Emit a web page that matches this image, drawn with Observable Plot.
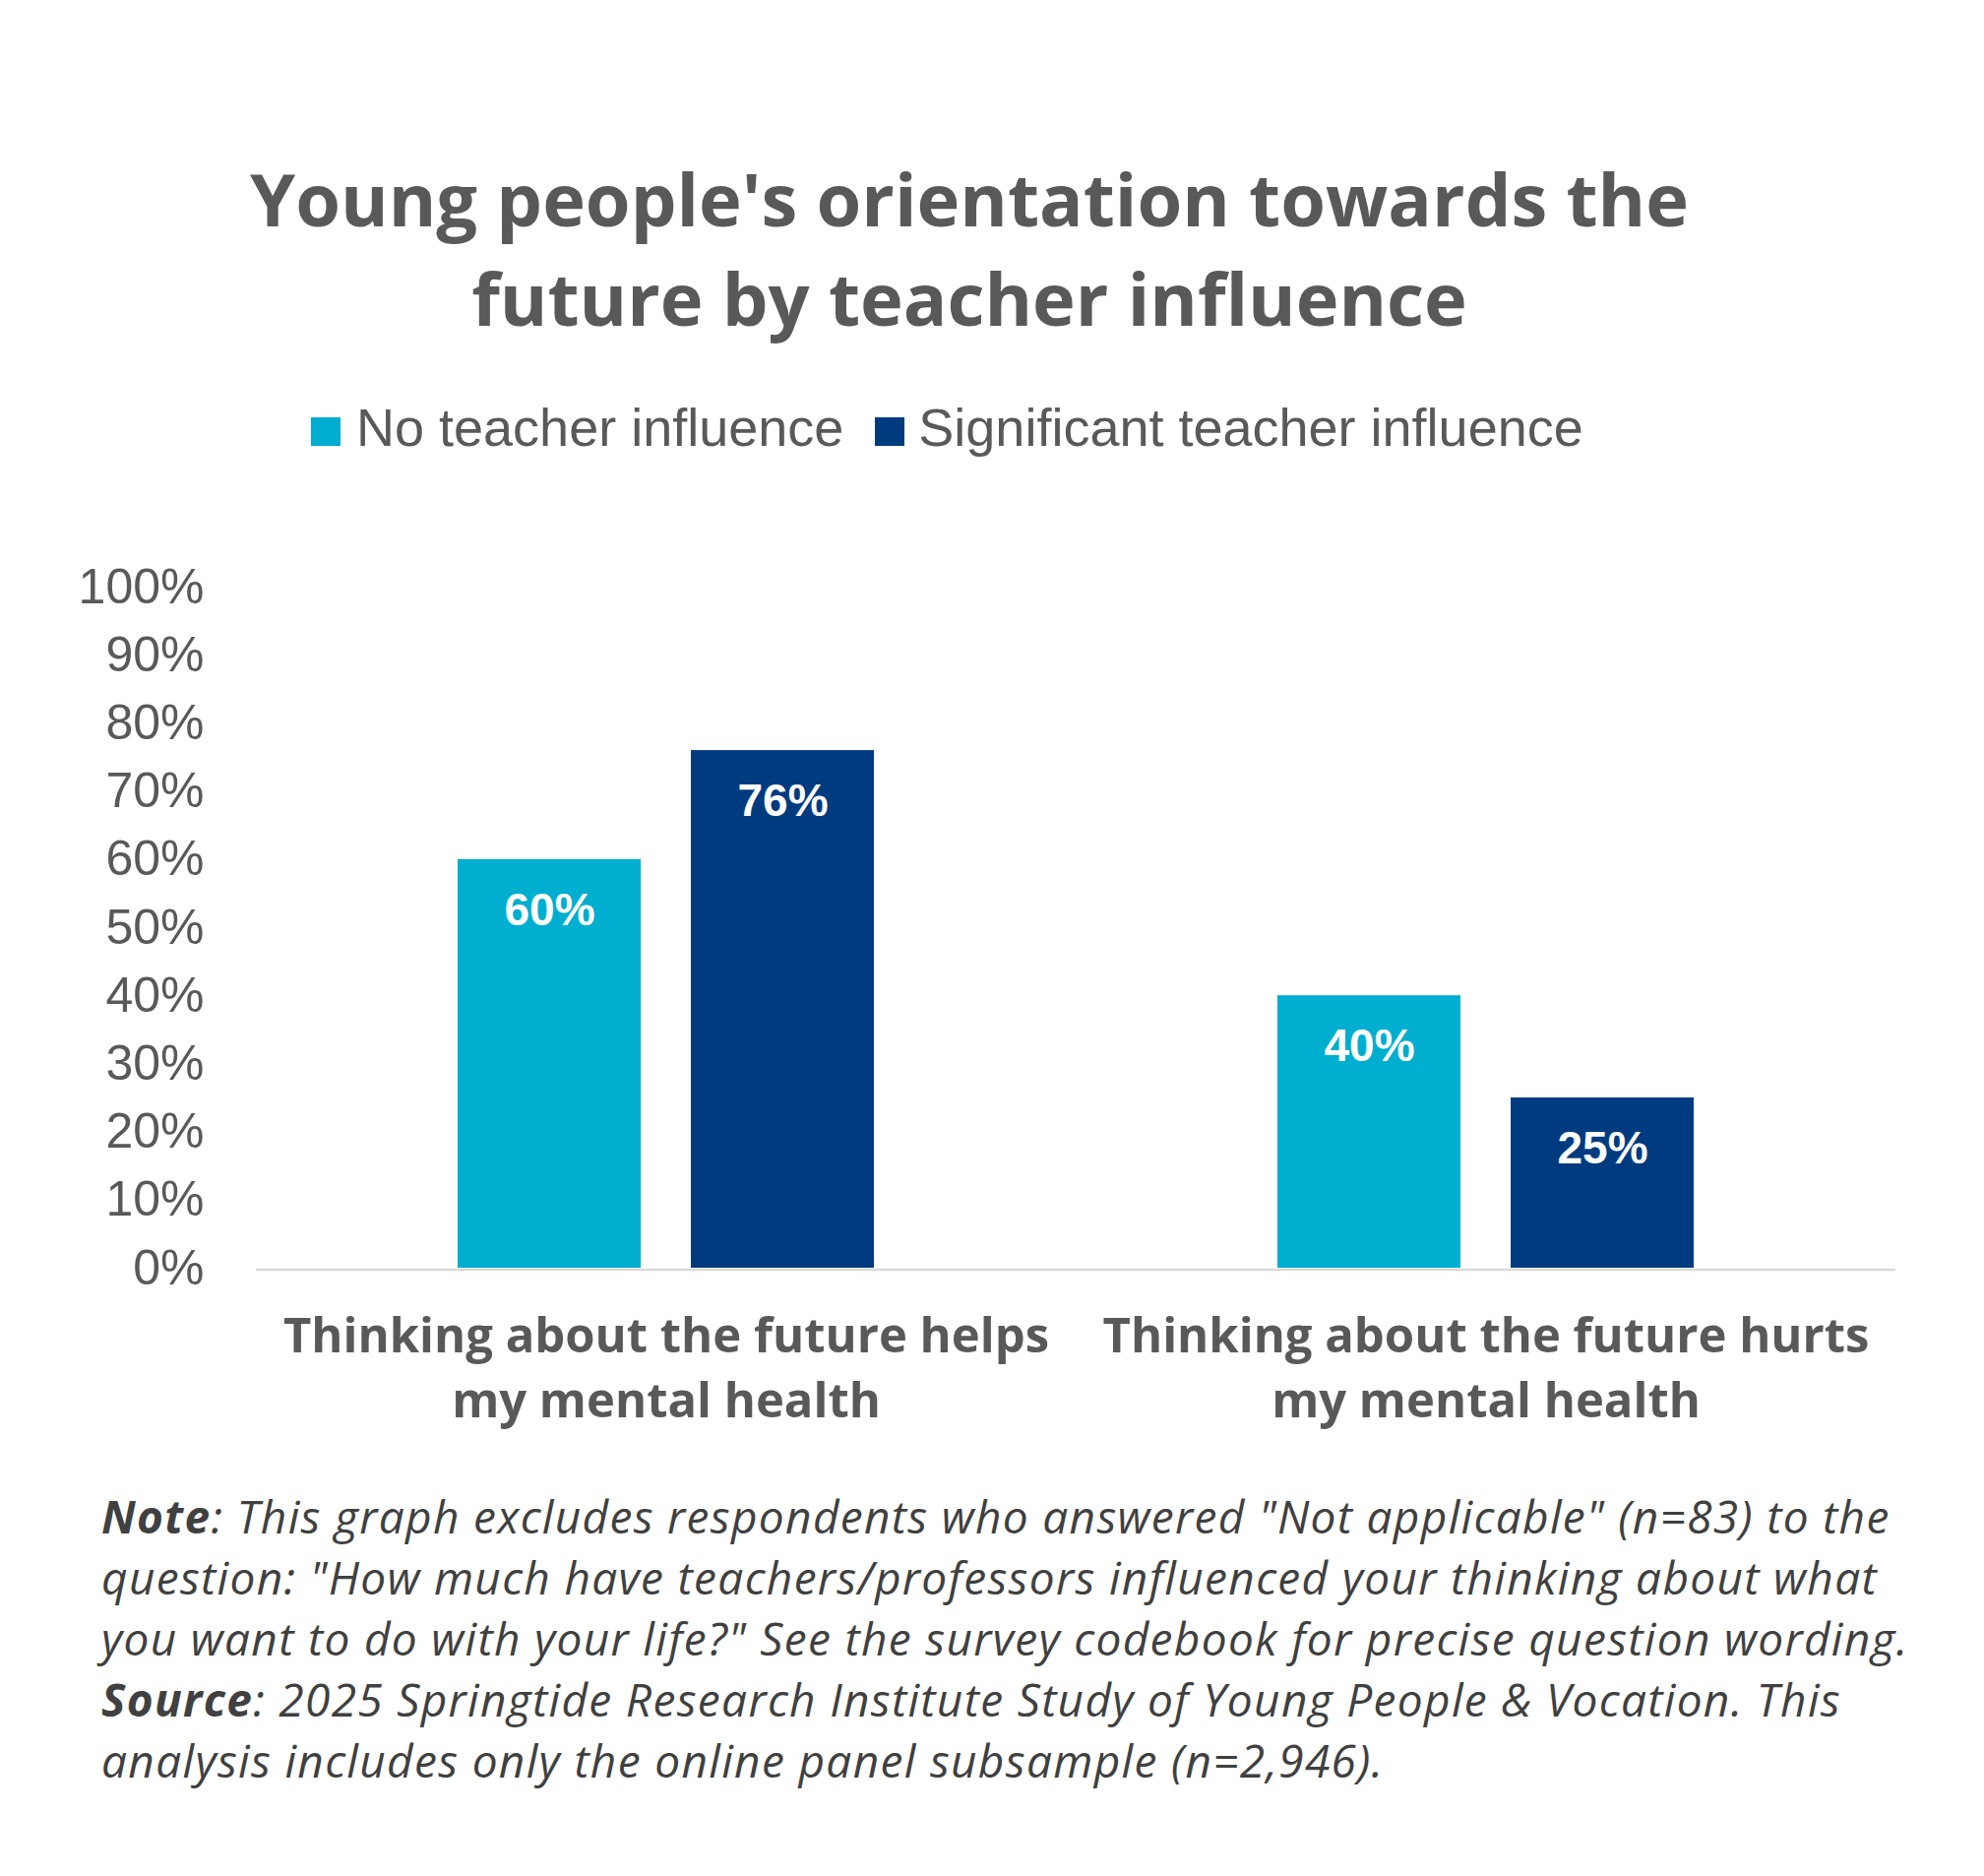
<!DOCTYPE html>
<html>
<head>
<meta charset="utf-8">
<script src="https://cdn.jsdelivr.net/npm/d3@7"></script>
<script src="https://cdn.jsdelivr.net/npm/@observablehq/plot@0.6"></script>
<style>
  html, body { margin: 0; padding: 0; background: #ffffff; }
  #page { position: relative; width: 2016px; height: 1906px; overflow: hidden; background: #fff; }
  #title { position: absolute; left: 0; top: 151px; width: 1970px; text-align: center;
           font-family: "Open Sans", sans-serif; font-weight: 700; font-size: 74px; line-height: 101px; color: #595959; }
  #legend { position: absolute; left: 316px; top: 404px; white-space: nowrap;
            font-family: "Liberation Sans", Arial, sans-serif; font-size: 54px; line-height: 60px; color: #595959; }
  #legend .sw { display: inline-block; width: 30px; height: 29px; vertical-align: baseline; }
  #chart { position: absolute; left: 0; top: 500px; }
  #note { position: absolute; left: 103px; top: 1509px; white-space: nowrap;
          font-family: "Open Sans", sans-serif; font-style: italic; font-size: 46px; letter-spacing: 1.32px;
          line-height: 62px; color: #404040; }
  #note b { font-weight: 700; }
</style>
</head>
<body>
<div id="page">
  <div id="title"></div>
  <div id="legend"></div>
  <div id="chart"></div>
  <div id="note"></div>
</div>
<script>
// ---- data ----
const categories = [
  "Thinking about the future helps my mental health",
  "Thinking about the future hurts my mental health"
];
const categoryLabels = [
  "Thinking about the future helps\nmy mental health",
  "Thinking about the future hurts\nmy mental health"
];
const series = ["No teacher influence", "Significant teacher influence"];
const noTeacherInfluence = [60, 40];
const significantTeacherInfluence = [76, 25];
const yTicks = [0, 10, 20, 30, 40, 50, 60, 70, 80, 90, 100];
const colors = ["#00AECF", "#003B7F"];
const titleLines = ["Young people's orientation towards the", "future by teacher influence"];

// ---- table ----
const seriesValues = [noTeacherInfluence, significantTeacherInfluence];
const rows = categories.flatMap((c, i) =>
  series.map((s, j) => ({category: c, series: s, value: seriesValues[j][i]}))
);
const labelOf = new Map(categories.map((c, i) => [c, categoryLabels[i]]));

// ---- title ----
document.getElementById("title").innerHTML = titleLines.join("<br>");

// ---- legend ----
const legend = document.getElementById("legend");
series.forEach((s, j) => {
  const sw = document.createElement("span");
  sw.className = "sw";
  sw.style.background = colors[j];
  sw.style.marginLeft = j === 0 ? "0px" : "32px";
  sw.style.marginRight = j === 0 ? "16px" : "14px";
  legend.appendChild(sw);
  legend.appendChild(document.createTextNode(s));
});

// ---- chart ----
const chart = Plot.plot({
  width: 2016,
  height: 980,
  marginTop: 96,
  marginBottom: 192,
  marginLeft: 259,
  marginRight: 90,
  style: {background: "transparent", fontFamily: "Liberation Sans, Arial, sans-serif", overflow: "visible"},
  fx: {domain: categories, padding: 0},
  x: {domain: series, paddingInner: 0.2143, paddingOuter: 0.86, axis: null},
  y: {domain: [0, 100]},
  color: {domain: series, range: colors},
  marks: [
    Plot.ruleY([0], {stroke: "#d9d9d9", strokeWidth: 2.5, dy: 1.5}),
    Plot.barY(rows, {fx: "category", x: "series", y: "value", fill: "series"}),
    Plot.text(rows, {
      fx: "category", x: "series", y: "value",
      text: d => d.value + "%",
      dy: 52, fill: "white", fontSize: 46, fontWeight: "bold",
      fontFamily: "Liberation Sans, Arial, sans-serif"
    }),
    Plot.axisY({
      ticks: yTicks, tickFormat: d => d + "%", tickSize: 0, tickPadding: 53,
      fontSize: 50, fill: "#595959", label: null
    }),
    Plot.axisFx({
      anchor: "bottom", tickSize: 0, tickPadding: 39, label: null,
      tickFormat: d => labelOf.get(d),
      fontSize: 49, fontWeight: "bold", fontFamily: "Open Sans, sans-serif",
      fill: "#595959", lineHeight: 66 / 49
    })
  ]
});
document.getElementById("chart").appendChild(chart);

// ---- note ----
document.getElementById("note").innerHTML =
  '<b>Note</b>: This graph excludes respondents who answered "Not applicable" (n=83) to the<br>' +
  'question: "How much have teachers/professors influenced your thinking about what<br>' +
  'you want to do with your life?" See the survey codebook for precise question wording.<br>' +
  '<b>Source</b>: 2025 Springtide Research Institute Study of Young People &amp; Vocation. This<br>' +
  'analysis includes only the online panel subsample (n=2,946).';
</script>
</body>
</html>
